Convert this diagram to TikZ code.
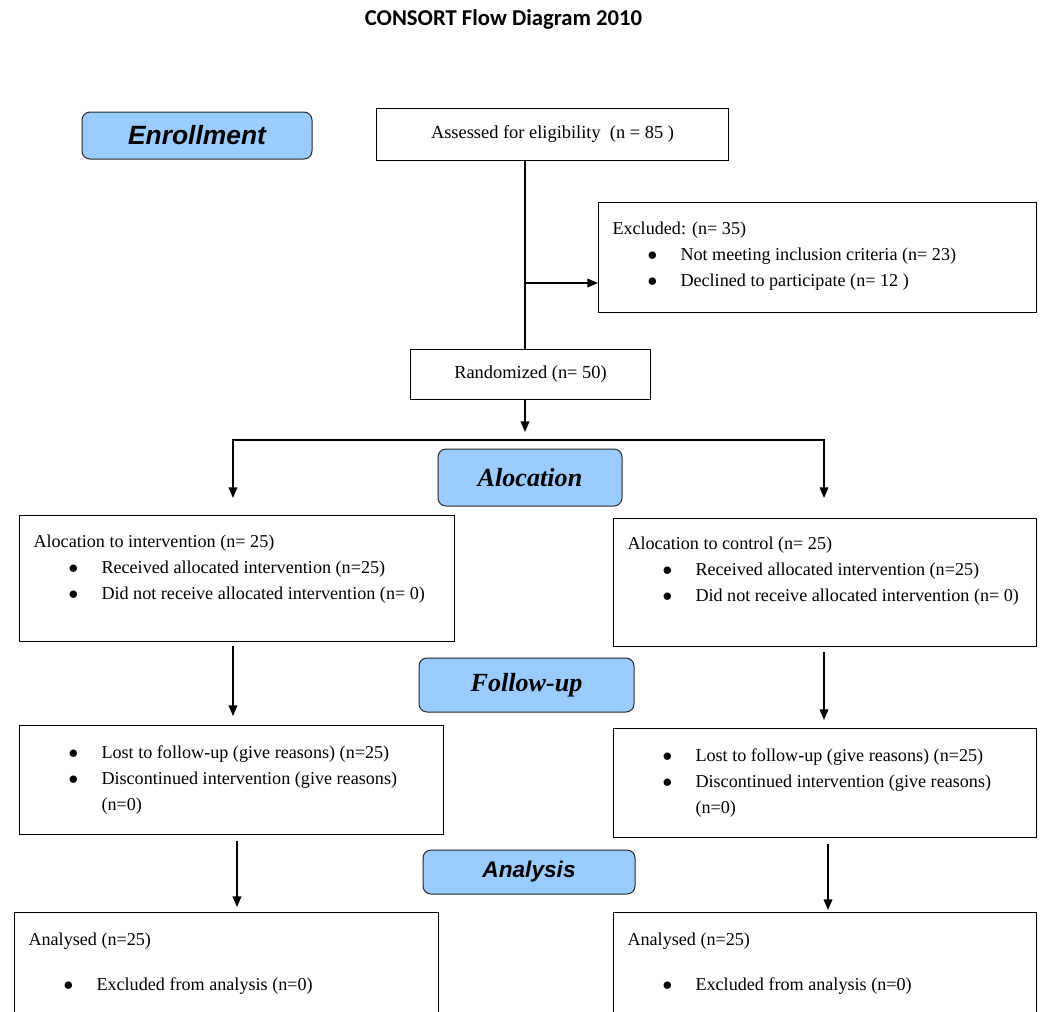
\documentclass[tikz,border=0pt]{standalone}
\usepackage{fontspec}
\setmainfont{Liberation Serif}
\newfontfamily\arialfont{Liberation Sans}
\newfontfamily\titlefont{Carlito}
\usetikzlibrary{arrows.meta, positioning}
\definecolor{stageblue}{RGB}{153,204,255}

% pixel lengths (1px = 0.75pt)
\newcommand{\px}[1]{\dimexpr #1pt*3/4\relax}
\newcommand{\hd}[1]{\strut\hspace*{\px{14}}#1\par}
\newcommand{\itm}[1]{\strut\hspace*{\px{49}}\makebox[\px{33}][l]{$\bullet$}#1\par}
\newcommand{\boxtxt}[4]{\parbox[c][\px{#2}][t]{\px{#1}}{\fontsize{13.6}{19.5}\selectfont\vspace*{\px{#3}}#4}}

\begin{document}
\begin{tikzpicture}[x=0.75pt, y=-0.75pt,
  box/.style={draw, line width=0.75pt, inner sep=0pt, anchor=north west, font=\fontsize{13.8}{16}\selectfont},
  stage/.style={draw=black!85, fill=stageblue, rounded corners=6pt, line width=0.75pt, inner sep=0pt},
  arr/.style={-{Triangle[length=8pt,width=6.5pt]}, line width=1.1pt},
  line/.style={line width=1.1pt}]
\clip (0,0) rectangle (1044,1011);

% Titulo
\node (title) at (503.5,19) {\titlefont\bfseries\fontsize{17}{20}\selectfont CONSORT Flow Diagram 2010};

% Etapas
\node[stage, minimum width=230*0.75pt, minimum height=47*0.75pt, font=\arialfont\bfseries\itshape\fontsize{19.8}{24}\selectfont] (enroll) at (197,135.5) {Enrollment};
\node[stage, minimum width=184*0.75pt, minimum height=57*0.75pt, font=\bfseries\itshape\fontsize{19.6}{24}\selectfont] (alloc) at (530,477.5) {Alocation};
\node[stage, minimum width=215*0.75pt, minimum height=54*0.75pt, font=\bfseries\itshape\fontsize{19.6}{24}\selectfont] (follow) at (526.5,685) {Follow-up};
\node[stage, minimum width=212*0.75pt, minimum height=44*0.75pt, font=\arialfont\bfseries\itshape\fontsize{17}{20}\selectfont] (analysis) at (529,872) {\raisebox{-2.5pt}{Analysis}};

% Cajas
\node[box, minimum width=352*0.75pt, minimum height=52*0.75pt] (assess) at (376,108) {Assessed for eligibility\ \ (n = 85 )};
\node[box] (excl) at (598,202) {\boxtxt{438}{110}{14}{\hd{Excluded: (n= 35)}\itm{Not meeting inclusion criteria (n= 23)}\itm{Declined to participate (n= 12 )}}};
\node[box, minimum width=240*0.75pt, minimum height=50*0.75pt] (rand) at (410,349) {Randomized (n= 50)};

\node[box] (allocL) at (19,515) {\boxtxt{435}{126}{14}{\hd{Alocation to intervention (n= 25)}\itm{Received allocated intervention (n=25)}\itm{Did not receive allocated intervention (n= 0)}}};
\node[box] (allocR) at (613,518) {\boxtxt{423}{128}{13}{\hd{Alocation to control (n= 25)}\itm{Received allocated intervention (n=25)}\itm{Did not receive allocated intervention (n= 0)}}};

\node[box] (follL) at (19,725) {\boxtxt{424}{109}{15}{\itm{Lost to follow-up (give reasons) (n=25)}\itm{Discontinued intervention (give reasons)}\strut\hspace*{\px{82}}(n=0)\par}};
\node[box] (follR) at (613,728) {\boxtxt{423}{109}{15}{\itm{Lost to follow-up (give reasons) (n=25)}\itm{Discontinued intervention (give reasons)}\strut\hspace*{\px{82}}(n=0)\par}};

\node[box] (anaL) at (14,912) {\boxtxt{424}{140}{15}{\hd{Analysed (n=25)}\vspace{\px{19}}\itm{Excluded from analysis (n=0)}}};
\node[box] (anaR) at (613,912) {\boxtxt{423}{140}{15}{\hd{Analysed (n=25)}\vspace{\px{19}}\itm{Excluded from analysis (n=0)}}};

% Conectores
\coordinate (spine) at (525,283);
\coordinate (fork) at (525,432);
\coordinate (bar) at (0,440);
\coordinate (armL) at (233,498);
\coordinate (armR) at (824,498);
\coordinate (colL) at (237,0);
\coordinate (colR) at (828,0);

\draw[line] (spine |- assess.south) -- (spine |- rand.north);
\draw[arr] (spine) -- (spine -| excl.west);
\draw[arr] (spine |- rand.south) -- (fork);
\draw[arr, {Triangle[length=8pt,width=6.5pt]}-{Triangle[length=8pt,width=6.5pt]}] (armL) -- (armL |- bar) -- (armR |- bar) -- (armR);

\draw[arr, shorten <=3pt, shorten >=6.75pt] (allocL.south -| armL) -- (follL.north -| armL);
\draw[arr, shorten <=3.75pt, shorten >=6pt] (allocR.south -| armR) -- (follR.north -| armR);
\draw[arr, shorten <=4.5pt, shorten >=3.75pt] (follL.south -| colL) -- (anaL.north -| colL);
\draw[arr, shorten <=4.5pt, shorten >=1.5pt] (follR.south -| colR) -- (anaR.north -| colR);
\end{tikzpicture}
\end{document}
